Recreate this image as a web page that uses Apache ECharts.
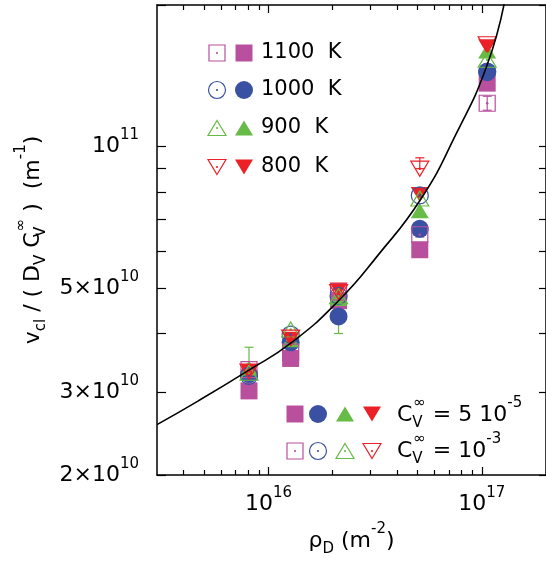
<!DOCTYPE html>
<html>
<head>
<meta charset="utf-8">
<script src="https://cdn.jsdelivr.net/npm/echarts@6/dist/echarts.min.js"></script>
<style>
html, body { margin: 0; padding: 0; background: #fff; }
#main { width: 546px; height: 564px; }
</style>
</head>
<body>
<div id="main"></div>
<script>
// dislocation density rho_D (m^-2)
var rho = [8.1e15, 1.27e16, 2.13e16, 5.12e16, 1.06e17];
// Cv = 5e-5 (filled symbols)
var filled1100 = [3.02e10, 3.54e10, 4.70e10, 6.03e10, 1.364e11];
var filled1000 = [3.28e10, 3.83e10, 4.35e10, 6.68e10, 1.444e11];
var filled900  = [3.38e10, 3.88e10, 4.75e10, 7.30e10, 1.596e11];
var filled800  = [3.32e10, 3.89e10, 4.95e10, 7.90e10, 1.63e11];
// Cv = 1e-3 (open symbols)
var open1100 = [3.35e10, 3.65e10, 4.90e10, 6.49e10, 1.236e11];
var open1000 = [3.25e10, 3.98e10, 4.81e10, 7.87e10, 1.44e11];
var open900  = [3.30e10, 4.08e10, 4.80e10, 7.75e10, 1.53e11];
var open800  = [3.32e10, 3.92e10, 4.90e10, 8.97e10, 1.65e11];
// error bars
var errRho  = [8.1e15, 2.13e16, 5.12e16, 5.12e16, 1.06e17, 1.06e17];
var errLow  = [3.34e10, 4.00e10, 8.97e10, 6.42e10, 1.64e11, 1.194e11];
var errHigh = [3.74e10, 4.75e10, 9.46e10, 6.68e10, 1.675e11, 1.279e11];
var errTemp = [900, 900, 800, 1100, 800, 1100];
// fitted curve
var fitRho = [3e15, 4.71e15, 8.06e15, 1.267e16, 2.124e16, 3.27e16, 5.19e16, 7.56e16, 1.055e17, 1.281e17];
var fitV   = [2.56e10, 2.88e10, 3.34e10, 3.81e10, 4.69e10, 5.88e10, 7.74e10, 1.061e11, 1.483e11, 2.04e11];
// axes
var xMin = 3e15, xMax = 2e17, yMin = 2e10, yMax = 2e11;
var xMajorTicks = [1e16, 1e17];
var xMinorTicks = [4e15, 5e15, 6e15, 7e15, 8e15, 9e15, 2e16, 3e16, 4e16, 5e16, 6e16, 7e16, 8e16, 9e16, 2e17];
var yTicks = [2e10, 3e10, 4e10, 5e10, 6e10, 7e10, 8e10, 9e10, 1e11, 2e11];
var yLabels = [2e10, 3e10, 5e10, 1e11];
var temps = [1100, 1000, 900, 800];
var tempNames = ['1100  K', '1000  K', '900  K', '800  K'];

var FONT = 'DejaVu Sans';
var colors = {1100: '#b8509e', 1000: '#3a51a3', 900: '#67bb47', 800: '#ec2027'};
var shapes = {1100: 'rect', 1000: 'circle', 900: 'up', 800: 'down'};
var filled = {1100: filled1100, 1000: filled1000, 900: filled900, 800: filled800};
var opened = {1100: open1100, 1000: open1000, 900: open900, 800: open800};
var lg = Math.log10;

function pairs(xs, ys) {
  return xs.map(function (x, i) { return [x, ys[i]]; });
}

function powLabel(e) {
  var p = Math.floor(e + 1e-6);
  var m = Math.round(Math.pow(10, e - p));
  return (m === 1 ? '{b|10}' : '{b|' + m + '×10}') + '{s|' + p + '}';
}

var tickRich = {
  b: {fontFamily: FONT, fontSize: 22, lineHeight: 34, color: '#000'},
  s: {fontFamily: FONT, fontSize: 15, height: 12, verticalAlign: 'top', color: '#000'}
};
// base text, subscript, zero-width subscript (stacked under the next sup), superscript
function richSet(extra) {
  var r = {
    n: {fontFamily: FONT, fontSize: 22, lineHeight: 38},
    sub: {fontFamily: FONT, fontSize: 15, height: 22, verticalAlign: 'bottom'},
    subz: {fontFamily: FONT, fontSize: 15, height: 22, verticalAlign: 'bottom', width: 1, overflow: 'none'},
    sup: {fontFamily: FONT, fontSize: 15, height: 14, verticalAlign: 'top'}
  };
  if (extra) for (var k in r) Object.assign(r[k], extra);
  return r;
}
var nameRich = richSet({color: '#000'});

function tickAxis(dim, pos, ticks, len, line, labels) {
  var lo = dim === 'x' ? lg(xMin) : lg(yMin), hi = dim === 'x' ? lg(xMax) : lg(yMax);
  var ax = {
    type: 'value', position: pos, min: lo, max: hi,
    axisLine: {show: line, onZero: false, lineStyle: {color: '#000', width: 1.5}},
    axisTick: {show: true, inside: true, length: len, customValues: ticks.map(lg), lineStyle: {color: '#000', width: 1.2}},
    axisLabel: {show: false},
    splitLine: {show: false}
  };
  if (labels) {
    ax.axisLabel = {
      show: true, customValues: labels.map(lg), formatter: powLabel, rich: tickRich,
      margin: dim === 'x' ? 12 : 18
    };
  }
  return ax;
}

var xAxes = [
  {type: 'log', logBase: 10, min: xMin, max: xMax, show: false},
  tickAxis('x', 'bottom', xMajorTicks, 8, true, xMajorTicks),
  tickAxis('x', 'bottom', xMinorTicks, 5, false),
  tickAxis('x', 'top', xMajorTicks, 8, true),
  tickAxis('x', 'top', xMinorTicks, 5, false)
];
xAxes[1].name = '{n|ρ}{sub|D}{n| (m}{sup|-2}{n|)}';
xAxes[1].nameLocation = 'middle';
xAxes[1].nameGap = 47;
xAxes[1].nameTextStyle = {rich: nameRich};

var yAxes = [
  {type: 'log', logBase: 10, min: yMin, max: yMax, show: false},
  tickAxis('y', 'left', yTicks, 9, true, yLabels),
  tickAxis('y', 'right', yTicks, 7, true)
];
yAxes[1].name = '{n|v}{sub|cl}{n| / ( D}{sub|V}{n| C}{subz|V}{sup|∞}{n| )  (m}{sup|-1}{n|)}';
yAxes[1].nameLocation = 'middle';
yAxes[1].nameGap = 97;
yAxes[1].nameTextStyle = {rich: nameRich};

var series = [];
series.push({
  type: 'custom', silent: true, xAxisIndex: 0, yAxisIndex: 0,
  data: errRho.map(function (r, i) { return [r, errLow[i], errHigh[i], errTemp[i]]; }),
  encode: {x: 0, y: [1, 2]},
  renderItem: function (params, api) {
    var lo = api.coord([api.value(0), api.value(1)]);
    var hi = api.coord([api.value(0), api.value(2)]);
    var w = 4.5;
    var st = {stroke: colors[api.value(3)], lineWidth: 1.2};
    return {type: 'group', children: [
      {type: 'line', shape: {x1: lo[0], y1: lo[1], x2: hi[0], y2: hi[1]}, style: st},
      {type: 'line', shape: {x1: hi[0] - w, y1: hi[1], x2: hi[0] + w, y2: hi[1]}, style: st},
      {type: 'line', shape: {x1: lo[0] - w, y1: lo[1], x2: lo[0] + w, y2: lo[1]}, style: st}
    ]};
  }
});

function symOf(t) { return shapes[t] === 'rect' ? 'rect' : (shapes[t] === 'circle' ? 'circle' : 'triangle'); }
function sizeOf(t, open) {
  if (shapes[t] === 'rect') return open ? 16 : 17;
  if (shapes[t] === 'circle') return open ? 17 : 18;
  return [18, 15];
}

temps.forEach(function (t) {
  series.push({
    type: 'scatter', silent: true, xAxisIndex: 0, yAxisIndex: 0,
    data: pairs(rho, filled[t]),
    symbol: symOf(t), symbolRotate: shapes[t] === 'down' ? 180 : 0, symbolSize: sizeOf(t, false),
    itemStyle: {color: colors[t], opacity: 1}
  });
});
temps.forEach(function (t) {
  series.push({
    type: 'scatter', silent: true, xAxisIndex: 0, yAxisIndex: 0,
    data: pairs(rho, opened[t]),
    symbol: symOf(t), symbolRotate: shapes[t] === 'down' ? 180 : 0, symbolSize: sizeOf(t, true),
    itemStyle: {color: 'rgba(0,0,0,0)', borderColor: colors[t], borderWidth: 1.2, opacity: 1}
  });
  series.push({
    type: 'scatter', silent: true, xAxisIndex: 0, yAxisIndex: 0,
    data: pairs(rho, opened[t]),
    symbol: 'circle', symbolSize: 2.5,
    itemStyle: {color: colors[t], opacity: 1}
  });
});
series.push({
  type: 'line', silent: true, xAxisIndex: 0, yAxisIndex: 0,
  data: pairs(fitRho, fitV), showSymbol: false, symbol: 'none', smooth: 0.5,
  lineStyle: {color: '#000', width: 1.6}
});

// legend drawn by hand (two symbols per entry)
function marker(t, cx, cy, open) {
  var st = open ? {fill: 'none', stroke: colors[t], lineWidth: 1.2} : {fill: colors[t]};
  var out = [];
  var s = shapes[t];
  if (s === 'rect') {
    var a = open ? 16 : 17;
    out.push({type: 'rect', shape: {x: cx - a / 2, y: cy - a / 2, width: a, height: a}, style: st});
  } else if (s === 'circle') {
    out.push({type: 'circle', shape: {cx: cx, cy: cy, r: open ? 8.5 : 9}, style: st});
  } else {
    var d = s === 'up' ? 1 : -1, w = 9, h = 7.5;
    out.push({type: 'polygon', shape: {points: [[cx, cy - d * h], [cx + w, cy + d * h], [cx - w, cy + d * h]]}, style: st});
  }
  if (open) out.push({type: 'circle', shape: {cx: cx, cy: cy, r: 1.1}, style: {fill: colors[t]}});
  return out;
}

var graphics = [];
var rowY = [53, 90, 128, 167];
temps.forEach(function (t, i) {
  graphics = graphics.concat(marker(t, 217, rowY[i], true), marker(t, 244, rowY[i], false));
  graphics.push({type: 'text', style: {text: tempNames[i], x: 261, y: rowY[i], verticalAlign: 'middle',
    fontFamily: FONT, fontSize: 21, fill: '#000'}});
});
var colX = [295, 318, 345, 372];
temps.forEach(function (t, i) {
  graphics = graphics.concat(marker(t, colX[i], 414, false), marker(t, colX[i], 451, true));
});
var legRich = richSet();
graphics.push({type: 'text', style: {text: '{n|C}{subz|V}{sup|∞}{n| = 5 10}{sup|-5}', rich: legRich,
  x: 397, y: 415, verticalAlign: 'middle', fill: '#000'}});
graphics.push({type: 'text', style: {text: '{n|C}{subz|V}{sup|∞}{n| = 10}{sup|-3}', rich: legRich,
  x: 397, y: 451.5, verticalAlign: 'middle', fill: '#000'}});

var myChart = echarts.init(document.getElementById('main'));
var option = {
  animation: false,
  backgroundColor: '#fff',
  grid: {left: 157, right: -2, top: 5, bottom: 89, containLabel: false},
  xAxis: xAxes,
  yAxis: yAxes,
  series: series,
  graphic: graphics
};
myChart.setOption(option);
</script>
</body>
</html>
